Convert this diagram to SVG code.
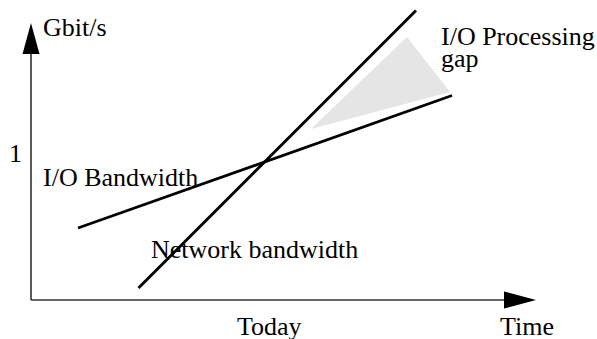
<svg xmlns="http://www.w3.org/2000/svg" width="597" height="339" viewBox="0 0 597 339">
  <style>
    .lbl { font-family: 'Liberation Serif', 'Times New Roman', Times, serif; font-size: 26px; fill: #000; }
    .axis { stroke: #333; stroke-width: 1.6; fill: none; }
    .trend { stroke: #000; stroke-width: 2.8; fill: none; stroke-linecap: butt; }
  </style>
  <rect width="597" height="339" fill="#fff"/>

  <!-- shaded region between the two trends -->
  <g id="gap-area">
    <polygon points="407,37 311,129 450,92" fill="#e5e5e5"/>
  </g>

  <g id="connectors">
    <!-- axes -->
    <line class="axis" x1="31" y1="300" x2="31" y2="50"/>
    <polygon points="31,23 22.5,54 39.5,54" fill="#000"/>
    <line class="axis" x1="31" y1="300" x2="506" y2="300"/>
    <polygon points="536,300 504,291.5 504,308.5" fill="#000"/>
    <!-- trend lines -->
    <line class="trend" x1="78" y1="228" x2="452" y2="95.5"/>
    <line class="trend" x1="138.5" y1="288" x2="416" y2="10.5"/>
  </g>

  <g id="y-label"><text class="lbl" x="43" y="36">Gbit/s</text></g>
  <g id="y-tick"><text class="lbl" x="9" y="162">1</text></g>
  <g id="io-bandwidth"><text class="lbl" x="43" y="186">I/O Bandwidth</text></g>
  <g id="network-bandwidth"><text class="lbl" x="151" y="258">Network bandwidth</text></g>
  <g id="io-gap"><text class="lbl" x="441" y="45">I/O Processing</text><text class="lbl" x="441" y="67">gap</text></g>
  <g id="today"><text class="lbl" x="237" y="335">Today</text></g>
  <g id="time"><text class="lbl" x="500" y="335">Time</text></g>
</svg>
